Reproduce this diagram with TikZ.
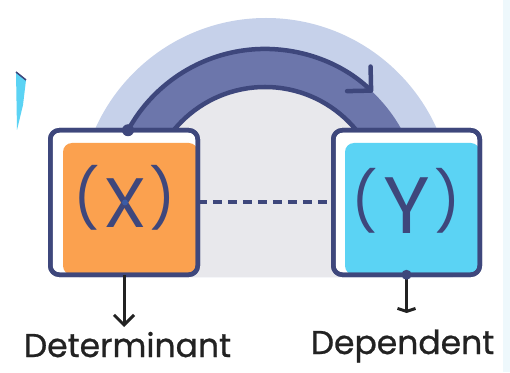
\documentclass[tikz,border=0pt]{standalone}
\usepackage{fontspec}
\setmainfont{Poppins}
\usetikzlibrary{arrows.meta}
\definecolor{navy}{HTML}{3E477C}
\definecolor{bandfill}{HTML}{6C76AB}
\definecolor{lightband}{HTML}{C6D1EA}
\definecolor{grayin}{HTML}{E8E8EC}
\definecolor{orangefill}{HTML}{FBA14F}
\definecolor{cyanfill}{HTML}{5BD3F4}
\definecolor{edgecyan}{HTML}{EEF8FC}
\definecolor{labelcol}{HTML}{222222}
\definecolor{dotblue}{HTML}{3B5BA5}
\newcommand{\myparen}[2]{\raisebox{#1}{\fontsize{58}{58}\selectfont #2}}
\begin{document}
\begin{tikzpicture}[x=1pt,y=1pt,
  box/.style={draw=navy, line width=4.5pt, fill=white, rounded corners=9pt,
    minimum width=147.5pt, minimum height=144.5pt, inner sep=0pt, outer sep=0pt},
  boxborder/.style={draw=navy, line width=4.5pt, rounded corners=9pt},
  boxtext/.style={text=navy, inner sep=0pt, font=\fontsize{70}{70}\selectfont},
  labeltext/.style={text=labelcol, inner sep=0pt, font=\fontsize{33}{33}\selectfont\addfontfeatures{FakeBold=0.8}},
  navyline/.style={draw=navy, line width=4.5pt, line cap=round},
  blackline/.style={draw=labelcol, line width=3pt},
  dashline/.style={draw=navy, line width=4pt, dash pattern=on 9pt off 6pt}
]
\useasboundingbox (0,0) rectangle (510,372);
\fill[white] (0,0) rectangle (510,372);
\fill[edgecyan] (503,0) rectangle (510,372);
\fill[cyanfill] (16,300) -- (26,292) -- (23,267) -- (17,242) -- cycle;
\draw[navy, line width=1.5pt] (16,300) -- (26,292);
% background arch
\fill[lightband] (79,95) -- (79,167) arc[start angle=180,end angle=0,radius=187] -- (453,95) -- cycle;
\fill[grayin] (147,95) -- (147,167) arc[start angle=180,end angle=0,radius=118] -- (383,95) -- cycle;
% band
\fill[bandfill] (109,167) arc[start angle=180,end angle=0,radius=156] -- (383,167) arc[start angle=0,end angle=180,radius=118] -- cycle;
\draw[navyline] (147,167) arc[start angle=180,end angle=0,radius=118];
% boxes
\node[box, path picture={\fill[orangefill] ([xshift=12.75pt]path picture bounding box.south west) rectangle ([yshift=-12.75pt]path picture bounding box.north east);}] (boxX) at (124,169.5) {};
\node[box, minimum width=146.5pt, path picture={\fill[cyanfill] ([xshift=11.75pt]path picture bounding box.south west) rectangle ([yshift=-12.75pt]path picture bounding box.north east);}] (boxY) at (406.5,169.5) {};
\draw[boxborder] (boxX.south west) rectangle (boxX.north east);
\draw[boxborder] (boxY.south west) rectangle (boxY.north east);
% outer band line with arrow
\coordinate (dotL) at (128,241.75);
\draw[navyline, -{Straight Barb[length=17pt,width=34pt,round]}] (dotL) arc[start angle=151.4,end angle=46.3,radius=156];
\fill[navy] (dotL) circle (6);
% dashed link
\draw[dashline] (boxX.east) -- (boxY.west);
% box texts
\node[boxtext, anchor=base] (xt) at (125,145) {\myparen{7pt}{(}\hspace{3pt}X\hspace{3pt}\myparen{7pt}{)}};
\fill[dotblue] (125,169.5) circle (3);
\node[boxtext, anchor=base, font=\fontsize{80}{80}\selectfont] (yt) at (406.5,139) {\myparen{10.5pt}{(}\hspace{5pt}Y\hspace{5pt}\myparen{10.5pt}{)}};
% arrows down
\coordinate (xend) at (124,45);
\coordinate (yend) at (406.5,59);
\draw[blackline, -{Straight Barb[length=10pt,width=20pt]}] (boxX.south) -- (xend);
\draw[blackline, -{Straight Barb[length=3pt,width=18pt]}] (boxY.south) -- (yend);
\fill[navy] (boxY.south) circle (5);
% labels
\node[labeltext, anchor=base] (det) at (127.5,15) {Determinant};
\node[labeltext, anchor=base] (dep) at (402.5,18) {Dependent};
\end{tikzpicture}
\end{document}
